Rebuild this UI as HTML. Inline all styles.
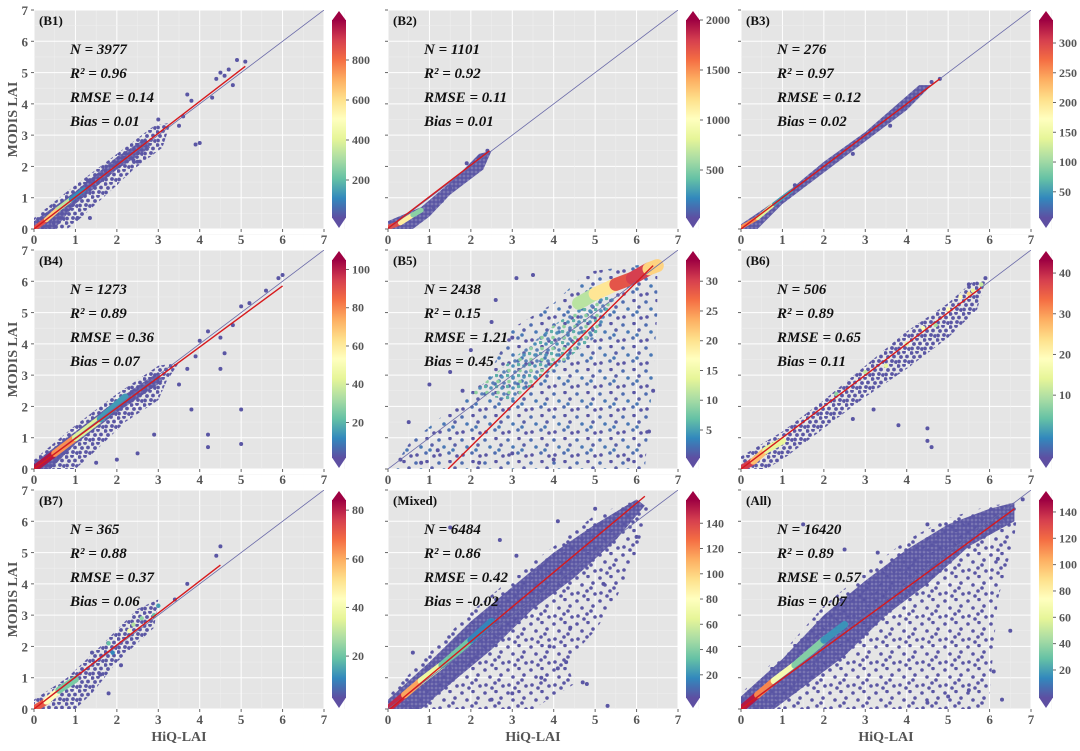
<!DOCTYPE html>
<html><head><meta charset="utf-8"><style>
body{margin:0;background:#fff;width:1080px;height:746px;overflow:hidden}
svg{font-family:"Liberation Serif",serif}
</style></head><body>
<svg id="fig" width="1080" height="746" xmlns="http://www.w3.org/2000/svg">
<defs>
<linearGradient id="spec" x1="0" y1="1" x2="0" y2="0">
<stop offset="0" stop-color="#5e4fa2"/><stop offset="0.1" stop-color="#3288bd"/><stop offset="0.2" stop-color="#66c2a5"/><stop offset="0.3" stop-color="#abdda4"/><stop offset="0.4" stop-color="#e6f598"/><stop offset="0.5" stop-color="#ffffbf"/><stop offset="0.6" stop-color="#fee08b"/><stop offset="0.7" stop-color="#fdae61"/><stop offset="0.8" stop-color="#f46d43"/><stop offset="0.9" stop-color="#d53e4f"/><stop offset="1" stop-color="#9e0142"/>
</linearGradient>
<pattern id="sp" width="23" height="23" patternUnits="userSpaceOnUse"><g fill="#5a56a4"><circle cx="2" cy="3" r="1.8"/><circle cx="13" cy="1.5" r="1.8"/><circle cx="7" cy="10" r="1.8"/><circle cx="18" cy="8" r="1.8"/><circle cx="3" cy="18" r="1.8"/><circle cx="12" cy="16" r="1.8"/><circle cx="20" cy="19" r="1.8"/><circle cx="16" cy="13" r="1.8"/><circle cx="9" cy="21" r="1.8"/></g></pattern>
<pattern id="spb" width="23" height="23" patternUnits="userSpaceOnUse"><circle cx="2" cy="3" r="1.8" fill="#4f6db0"/><circle cx="13" cy="1.5" r="1.8" fill="#5a56a4"/><circle cx="7" cy="10" r="1.8" fill="#4a78b5"/><circle cx="18" cy="8" r="1.8" fill="#5a60a8"/><circle cx="3" cy="18" r="1.8" fill="#5a56a4"/><circle cx="12" cy="16" r="1.8" fill="#4f6db0"/><circle cx="20" cy="19" r="1.8" fill="#5a56a4"/><circle cx="16" cy="13" r="1.8" fill="#4a78b5"/></pattern>
<pattern id="md" width="13" height="13" patternUnits="userSpaceOnUse"><g fill="#5a56a4"><circle cx="1.5" cy="2" r="1.9"/><circle cx="7" cy="1" r="1.9"/><circle cx="4" cy="6" r="1.9"/><circle cx="10" cy="5.5" r="1.9"/><circle cx="2" cy="10.5" r="1.9"/><circle cx="8" cy="10" r="1.9"/><circle cx="12" cy="11" r="1.9"/></g></pattern>
<pattern id="dn" width="4" height="4" patternUnits="userSpaceOnUse"><rect width="4" height="4" fill="#5a56a4" fill-opacity="0.7"/><circle cx="2" cy="2" r="1.9" fill="#5a56a4"/></pattern>
<pattern id="tl" width="11" height="11" patternUnits="userSpaceOnUse"><circle cx="1.5" cy="1.5" r="1.8" fill="#5fb0a8"/><circle cx="7" cy="3" r="1.8" fill="#4f8fb8"/><circle cx="3" cy="7.5" r="1.8" fill="#8fd0a0"/><circle cx="9" cy="9" r="1.8" fill="#5a80b8"/></pattern>
</defs>
</svg>
<script>
// ---- data ----
const panelNames = ["B1","B2","B3","B4","B5","B6","B7","Mixed","All"];
const statN = ["3977","1101","276","1273","2438","506","365","6484","16420"];
const statR2 = ["0.96","0.92","0.97","0.89","0.15","0.89","0.88","0.86","0.89"];
const statRMSE = ["0.14","0.11","0.12","0.36","1.21","0.65","0.37","0.42","0.57"];
const statBias = ["0.01","0.01","0.02","0.07","0.45","0.11","0.06","-0.02","0.07"];
const cbMin = [25,50,11,3,0.8,-4.7,4,4,1];
const cbMax = [1010,2020,342,106,33.9,43.7,85,160,150.6];
const cbTicks = [[200,400,600,800],[500,1000,1500,2000],[50,100,150,200,250,300],[20,40,60,80,100],[5,10,15,20,25,30],[10,20,30,40],[20,40,60,80],[20,40,60,80,100,120,140],[20,40,60,80,100,120,140]];
const regStart = [[0,0],[0,0.02],[0,0],[0,0],[1.45,0],[0,0],[0,0],[0,-0.05],[0,0]];
const regEnd = [[5.1,5.2],[2.45,2.5],[4.8,4.8],[6,5.85],[6.4,6.5],[5.8,5.8],[4.5,4.6],[6.2,6.8],[6.6,6.4]];
const outerClouds = [
 [[0,0],[0,0.35],[0.8,1.2],[1.5,1.9],[2.2,2.6],[2.9,3.3],[3.3,3.4],[3.1,2.6],[2.4,1.9],[2,1.4],[1.5,0.8],[1,0.2],[0.8,0]],
 [[0,0],[0,0.25],[0.8,0.7],[1.6,1.6],[2.2,2.4],[2.5,2.5],[2.3,1.9],[1.5,1.1],[1,0.4],[0.6,0]],
 [[0,0],[0,0.15],[1,1.05],[2,2.15],[3,3.1],[4.3,4.6],[4.6,4.6],[4,3.8],[3,2.8],[2,1.8],[1,0.8],[0.4,0]],
 [[0,0],[0,0.3],[1,1.4],[2,2.4],[3,3.3],[3.5,3.4],[3.2,2.8],[3,2.2],[2.2,1.5],[1.5,0.6],[1,0]],
 [[0.1,0],[0.5,0.8],[1.5,1.9],[2.5,3.2],[3,4.5],[4,5.3],[4.8,6.3],[6.5,6.6],[6.5,5],[6.4,3],[6.2,0]],
 [[0,0],[0,0.4],[1,1.2],[2,2.2],[3,3.3],[4,4.4],[5,5.3],[5.6,6],[5.9,6],[5.7,5.1],[5,4.2],[4,3.2],[3,2.3],[2,1.3],[1,0.3],[0.6,0]],
 [[0,0],[0,0.3],[0.8,1],[1.6,2],[2.5,3.2],[3,3.5],[2.9,2.6],[2,1.5],[1.4,0.5],[1,0]],
 [[0,0],[0,0.4],[1,1.8],[2,3.1],[3,4.2],[4,5.2],[5,6.2],[5.8,6.6],[6.3,6.5],[6,5],[5.5,3.5],[5,2.5],[4.3,1.5],[4.5,0.8],[3.5,0],[0.7,0]],
 [[0,0],[0,0.5],[1,1.8],[2,3.3],[3,4.4],[4,5.4],[5,6.1],[6,6.5],[6.7,6.6],[6.6,5.5],[6.2,3.5],[6,0.5],[5.8,0]]
];
const outerPattern = ["md","dn","dn","md","spb","md","md","sp","sp"];
const innerClouds = [
 [[0,0],[0,0.25],[1,1.2],[2,2.3],[2.7,2.9],[2.8,2.6],[2,1.9],[1,0.8],[0.5,0]],
 [],[],
 [[0,0],[0,0.2],[1,1.2],[2,2.2],[3,3.1],[3.1,2.8],[2,1.8],[1,0.8],[0.4,0]],
 [[2,2.4],[3,3.5],[4,4.6],[5,5.5],[5.5,5.5],[5,4.2],[4,3.2],[3,2.2]],
 [],[],
 [[0,0],[0,0.3],[1,1.5],[2,2.8],[3,3.9],[4,5],[5,5.9],[6,6.7],[6.2,6.5],[5.5,5.4],[4.5,4.2],[3.5,3.2],[2.5,1.9],[1.5,0.8],[0.8,0]],
 [[0,0],[0,0.4],[1,1.6],[2,3],[3,4.1],[4,5.1],[5,5.9],[6,6.4],[6.6,6.6],[6.6,6],[5.5,5.2],[4.5,4],[3.5,3],[2.5,1.7],[1.5,0.7],[0.8,0]]
];
const innerPattern = ["dn","dn","dn","dn","tl","dn","dn","dn","dn"];
const cores = [
 [[0,0,950],[0.3,0.3,800],[0.6,0.65,500],[0.9,0.95,200],[1.2,1.25,60]],
 [[0,0.05,2000],[0.3,0.2,1500],[0.6,0.45,800],[0.8,0.6,300]],
 [[0,0.05,320],[0.4,0.35,200],[0.8,0.8,80],[1.2,1.2,30]],
 [[0,0,105],[0.5,0.5,100],[1,1,60],[1.6,1.6,25],[2.2,2.3,8]],
 [[4.6,5.3,8],[5,5.6,15],[5.5,5.9,25],[5.9,6.1,33],[6.3,6.4,28],[6.5,6.5,15]],
 [[0,0,43],[0.3,0.25,35],[0.6,0.6,20],[1,0.9,10]],
 [[0,0,85],[0.3,0.25,60],[0.6,0.6,30],[1,0.95,15]],
 [[0,0,160],[0.4,0.45,140],[0.8,0.9,90],[1.3,1.4,50],[2,2.2,25],[2.5,2.8,12]],
 [[0,0,150],[0.4,0.45,140],[0.8,0.9,90],[1.3,1.4,50],[2,2.2,25],[2.5,2.7,12]]
];
const coreWidth = [5,5,4,7,13,7,7,7,7];
const points = [
 [[4.5,5.0],[4.6,4.9],[4.7,5.1],[4.4,4.8],[4.8,4.6],[4.3,4.2],[3.8,4.1],[3.7,4.3],[3.6,3.6],[3.9,2.7],[4.0,2.75],[4.9,5.4],[5.1,5.35],[3.0,3.5],[2.4,2.2],[2.5,2.15],[1.35,0.35],[1.05,0.35],[1.3,1.55],[3.5,3.3],[2.0,2.1]],
 [[2.4,2.5],[2.2,2.3],[1.9,2.1],[1.5,1.3],[1.3,0.9],[1.1,0.7]],
 [[4.8,4.8],[4.6,4.7],[4.2,4.2],[3.9,3.9],[3.6,3.3],[2.7,2.4],[2.4,2.3],[3.2,3.2],[1.3,1.4]],
 [[6,6.2],[5.9,6.1],[5.6,5.7],[5.2,5.3],[5,5.2],[4.8,4.6],[4.5,4.2],[4.2,4.4],[4,4.1],[5,1.9],[5,0.8],[4.2,1.1],[4.2,0.7],[4.6,3.7],[4.5,3.2],[3.9,3.6],[3.7,3.2],[3.5,2.7],[3.8,1.9],[2.9,1.1],[2.5,0.5],[2,0.3],[1.5,0.2]],
 [[0.5,1.5],[1,2.7],[1.5,3.1],[2,3.8],[1.8,2.5],[3,4.2],[2.5,4.7],[0.3,0.3],[0.8,0.2],[1.2,0.6],[5.8,0.3],[6.3,1.2],[6.4,2.5],[4,0.3],[3,0.5],[2.2,0.2],[3.1,6.1],[2.6,5.4],[3.5,6.2]],
 [[3.2,1.9],[4.5,1.3],[4.5,0.9],[4.6,0.7],[3.8,1.4],[2.7,1.6],[5.9,6.1],[5.5,5.9]],
 [[4.4,4.9],[4.5,5.2],[3.7,4],[3.4,3.5],[1.6,1.1],[1.8,0.5],[1.4,1.8],[2.1,1.4]],
 [[5.3,0.1],[4.8,0.8],[4.7,0.85],[4.3,1.5],[4.1,1.3],[3.9,2],[3.7,1],[4.4,2.6],[5.2,4],[6,5.5],[3,0.5],[2.5,0.3],[1.5,5.8],[2.7,5.4],[3.1,4.9],[4.1,6.0],[5,6.4],[0.6,1.8]],
 [[6.3,0.3],[6.1,1.2],[5.5,0.6],[5,0.4],[4.5,0.2],[6.5,2.5],[6.8,6.7],[1.5,5.9],[2.5,5.1],[3.3,5.0],[4.5,5.9],[6.2,4.8]]
];
const colPoints = [[],[],[],[],[],
 [[3,3.1,12],[3.5,3.3,15],[4,4,15],[4.4,4.5,18],[5,5.1,20],[5.3,5.5,20],[5.5,5.6,25],[5.6,5.7,15],[5.8,5.9,12],[4.7,4.6,10],[2.3,2.4,8]],
 [[1.8,2.1,20],[2.4,2.7,30],[2.6,2.9,25],[2.9,3,20],[3,3.3,15],[2.3,2.5,40],[1.9,1.8,12]],
 [],[]];
const axisTicks = [0,1,2,3,4,5,6,7];

// ---- drawing ----
const NS="http://www.w3.org/2000/svg", svg=document.getElementById('fig');
const colL=[34,388,741], rowT=[10,250,490], W=290, H=219;
const stops=["#5e4fa2","#3288bd","#66c2a5","#abdda4","#e6f598","#ffffbf","#fee08b","#fdae61","#f46d43","#d53e4f","#9e0142"];
function hex(c){return [1,3,5].map(i=>parseInt(c.substr(i,2),16));}
function cmap(t){t=Math.max(0,Math.min(1,t));const f=t*10,i=Math.min(9,Math.floor(f)),r=f-i;const a=hex(stops[i]),b=hex(stops[i+1]);return `rgb(${a.map((v,k)=>Math.round(v+(b[k]-v)*r)).join(',')})`;}
function el(tag,attrs,parent){const e=document.createElementNS(NS,tag);for(const k in attrs)e.setAttribute(k,attrs[k]);(parent||svg).appendChild(e);return e;}
function txt(s,attrs,parent){const e=el('text',attrs,parent);e.textContent=s;return e;}

panelNames.forEach((nm,p)=>{
  const L=colL[p%3],T=rowT[Math.floor(p/3)],B=T+H;
  const X=v=>L+v/7*W, Y=v=>B-v/7*H;
  const g=el('g',{});
  
  
  const bg=el('rect',{x:L,y:T,width:W,height:H,fill:'#e5e5e5'},g);
  
  
  for(let k=0;k<=7;k++){
    el('line',{x1:X(k+0.5),x2:X(k+0.5),y1:T,y2:B,stroke:'#f0f0f0','stroke-width':0.5},g);
    el('line',{x1:L,x2:L+W,y1:Y(k+0.5),y2:Y(k+0.5),stroke:'#f0f0f0','stroke-width':0.5},g);
    el('line',{x1:X(k),x2:X(k),y1:T,y2:B,stroke:'#fff','stroke-width':1},g);
    el('line',{x1:L,x2:L+W,y1:Y(k),y2:Y(k),stroke:'#fff','stroke-width':1},g);
  }
  const cp=el('clipPath',{id:'clip'+p},g);el('rect',{x:L,y:T,width:W,height:H},cp);
  const inner=el('g',{'clip-path':`url(#clip${p})`},g);
  const oc=el('polygon',{points:outerClouds[p].map(q=>X(q[0])+','+Y(q[1])).join(' '),fill:`url(#${outerPattern[p]})`},inner);
  
  
  if(innerClouds[p].length){
    const ic=el('polygon',{points:innerClouds[p].map(q=>X(q[0])+','+Y(q[1])).join(' '),fill:`url(#${innerPattern[p]})`},inner);
    
    
  }
  points[p].forEach(q=>{const c=el('circle',{cx:X(q[0]),cy:Y(q[1]),r:2,fill:'#5a56a4'},inner);
    
    });
  const norm=v=>(v-cbMin[p])/(cbMax[p]-cbMin[p]);
  colPoints[p].forEach(q=>{const c=el('circle',{cx:X(q[0]),cy:Y(q[1]),r:2.2,fill:cmap(norm(q[2]))},inner);
    
    });
  const cr=cores[p];
  for(let i=0;i<cr.length-1;i++){
    const s=el('line',{x1:X(cr[i][0]),y1:Y(cr[i][1]),x2:X(cr[i+1][0]),y2:Y(cr[i+1][1]),stroke:cmap(norm((cr[i][2]+cr[i+1][2])/2)),'stroke-width':coreWidth[p],'stroke-linecap':'round'},inner);
    
    
  }
  const one=el('line',{x1:X(0),y1:Y(0),x2:X(7),y2:Y(7),stroke:'#6a6aa8','stroke-width':0.8},inner);
  
  
  const reg=el('line',{x1:X(regStart[p][0]),y1:Y(regStart[p][1]),x2:X(regEnd[p][0]),y2:Y(regEnd[p][1]),stroke:'#d7191c','stroke-width':1.4},inner);
  
  
  axisTicks.forEach(k=>{
    el('line',{x1:X(k),x2:X(k),y1:B,y2:B+3,stroke:'#666'},g);
    el('line',{x1:L-3,x2:L,y1:Y(k),y2:Y(k),stroke:'#666'},g);
    const tx=txt(String(k),{x:X(k),y:B+15,'text-anchor':'middle','font-size':13,'font-weight':'bold',fill:'#555'},g);
    
    
    if(p%3===0){const ty=txt(String(k),{x:L-6,y:Y(k)+5,'text-anchor':'end','font-size':13,'font-weight':'bold',fill:'#555'},g);
      
      }
  });
  const lab=txt('('+nm+')',{x:L+5,y:T+15,'font-size':13,'font-weight':'bold',fill:'#111'},g);
  
  
  const lines=['N = '+statN[p],'R² = '+statR2[p],'RMSE = '+statRMSE[p],'Bias = '+statBias[p]];
  lines.forEach((s,i)=>{const t=txt(s,{x:L+36,y:T+44+i*24,'font-size':15,'font-weight':'bold','font-style':'italic',fill:'#111'},g);
    
    });
  const cx=L+298, cw=14, cT=T+10, cB=T+208;
  const cb=el('g',{},g);
  
  
  el('rect',{x:cx,y:cT,width:cw,height:cB-cT,fill:'url(#spec)'},cb);
  el('polygon',{points:`${cx},${cT+0.5} ${cx+cw},${cT+0.5} ${cx+cw/2},${T+1}`,fill:'#9e0142'},cb);
  el('polygon',{points:`${cx},${cB-0.5} ${cx+cw},${cB-0.5} ${cx+cw/2},${T+218}`,fill:'#5e4fa2'},cb);
  const iT=T+8, iB=T+205;
  cbTicks[p].forEach(v=>{const y=iB-norm(v)*(iB-iT);
    el('line',{x1:cx+cw,x2:cx+cw+3,y1:y,y2:y,stroke:'#666'},cb);
    const t=txt(String(v),{x:cx+cw+6,y:y+4,'font-size':12,'font-weight':'bold',fill:'#555'},cb);
    
    });
});
[0,1,2].forEach(r=>{const t=txt('MODIS LAI',{x:0,y:0,transform:`translate(17,${rowT[r]+H/2}) rotate(-90)`,'text-anchor':'middle','font-size':14,'font-weight':'bold',fill:'#555'});
  
  });
[0,1,2].forEach(c=>{const t=txt('HiQ-LAI',{x:colL[c]+W/2,y:741,'text-anchor':'middle','font-size':14,'font-weight':'bold',fill:'#555'});
  
  });
</script>
</body></html>
